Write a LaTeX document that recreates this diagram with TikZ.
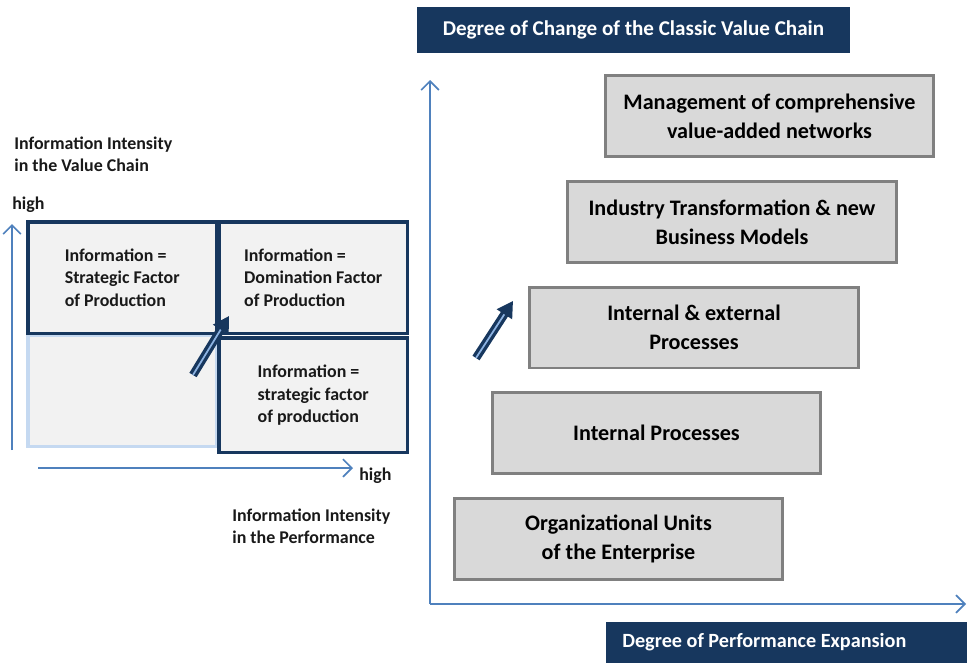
\documentclass[tikz,border=0pt]{standalone}
\usepackage{fontspec}
\setmainfont{Carlito}
\usepackage{tikz}
\usetikzlibrary{arrows.meta}

\definecolor{navy}{HTML}{17375E}
\definecolor{axisblue}{HTML}{4F81BD}
\definecolor{stagefill}{HTML}{D9D9D9}
\definecolor{stageline}{HTML}{808080}
\definecolor{cellfill}{HTML}{F2F2F2}
\definecolor{celllight}{HTML}{C5D9F1}
\definecolor{arrowlight}{HTML}{8DB3E2}

\tikzset{
	stage/.style={draw=stageline, line width=1.7pt, fill=stagefill, minimum width=6.58cm,
		minimum height=1.62cm, align=center, text=black,
		font=\bfseries\fontsize{12.6}{16.5}\selectfont},
	title/.style={fill=navy, text=white, align=center, font=\bfseries\fontsize{12}{14}\selectfont},
	cell/.style={draw=navy, line width=2pt, fill=cellfill, anchor=north west,
		minimum width=3.78cm, minimum height=2.24cm},
	celltext/.style={align=left, text=black!90, font=\bfseries\fontsize{10.2}{13}\selectfont},
	label/.style={align=left, inner sep=0pt, anchor=west, text=black!90,
		font=\bfseries\fontsize{10.2}{12.5}\selectfont},
	axis/.style={draw=axisblue, line width=1pt, -{Straight Barb[length=5pt,width=10pt]}},
	blockarrow/.style={draw=navy, line width=1.9pt, double=arrowlight, double distance=1pt,
		-{Triangle[length=9pt,width=10pt]}}
}

\begin{document}
\begin{tikzpicture}[x=0.02cm,y=-0.02cm]
	\useasboundingbox (0,0) rectangle (967,663);

	% left matrix
	\node[cell, draw=celllight] (bl) at (26,333) {};
	\node[cell] (tl) at (26,220) {};
	\node[cell] (tr) at (217,220) {};
	\node[cell, minimum height=2.3cm] (br) at (217,336) {};
	\node[celltext] at (tl.center) {Information =\\Strategic Factor\\of Production};
	\node[celltext] at (tr.center) {Information =\\Domination Factor\\of Production};
	\node[celltext] at (br.center) {Information =\\strategic factor\\of production};

	\coordinate (la1) at (193,375);
	\coordinate (la2) at (229,316);
	\draw[blockarrow] (la1) -- (la2);

	% left axes
	\coordinate (lo) at (12,450);
	\coordinate (ly) at (12,224);
	\coordinate (lx0) at (38,468);
	\coordinate (lx) at (353,468);
	\draw[axis] (lo) -- (ly);
	\draw[axis] (lx0) -- (lx);
	\node[label] (yname) at (14,154) {Information Intensity\\in the Value Chain};
	\node[label] (yhigh) at (12,205) {high};
	\node[label] (xhigh) at (359,476) {high};
	\node[label] (xname) at (232,526) {Information Intensity\\in the Performance};

	% right side
	\node[title, minimum width=8.66cm, minimum height=0.92cm] (ytitle) at (633.5,30)
		{Degree of Change of the Classic Value Chain};
	\node[title, anchor=west, text width=6.9cm, align=flush left, inner xsep=0.32cm,
		minimum height=0.82cm, font=\bfseries\fontsize{11.5}{14}\selectfont] (xtitle) at (606,642.5)
		{Degree of Performance Expansion};

	\coordinate (ro) at (430,604);
	\coordinate (ry) at (430,80);
	\coordinate (rx) at (966,604);
	\draw[axis] (ro) -- (ry);
	\draw[axis] (ro) -- (rx);

	\node[stage] (s1) at (769.5,116) {Management of comprehensive\\value-added networks};
	\node[stage] (s2) at (732,222) {Industry Transformation \& new\\Business Models};
	\node[stage] (s3) at (694,327.5) {Internal \& external\\Processes};
	\node[stage] (s4) at (656.5,433) {Internal Processes};
	\node[stage] (s5) at (618.5,539) {Organizational Units\\of the Enterprise};

	\coordinate (ra1) at (476,358);
	\coordinate (ra2) at (513,301);
	\draw[blockarrow] (ra1) -- (ra2);
\end{tikzpicture}
\end{document}
